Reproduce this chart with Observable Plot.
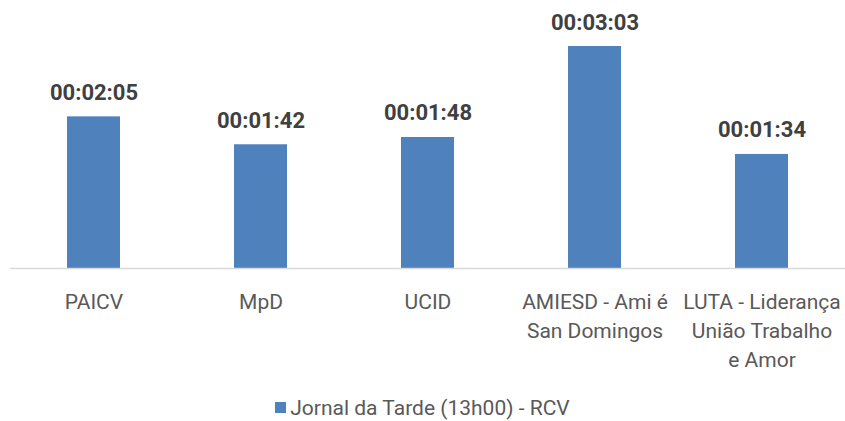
<!DOCTYPE html>
<html>
<head>
<meta charset="utf-8">
<script src="https://cdn.jsdelivr.net/npm/d3@7"></script>
<script src="https://cdn.jsdelivr.net/npm/@observablehq/plot@0.6"></script>
<style>
  html, body { margin: 0; padding: 0; background: #fff; }
  #chart { width: 845px; }
  .legend { height: 35px; display: flex; align-items: center; justify-content: center;
    font-family: Roboto, "Open Sans", sans-serif; font-size: 21px; color: #595959; }
  .legend .sw { width: 11px; height: 11px; background: #4f81bd; margin-right: 4px; }
</style>
</head>
<body>
<div id="chart"></div>
<script>
const categories = ["PAICV", "MpD", "UCID", "AMIESD - Ami é\nSan Domingos", "LUTA - Liderança\nUnião Trabalho\ne Amor"];
const durations = [125, 102, 108, 183, 94]; // seconds
const durationLabels = ["00:02:05", "00:01:42", "00:01:48", "00:03:03", "00:01:34"];
const seriesName = "Jornal da Tarde (13h00) - RCV";

const data = categories.map((c, i) => ({cat: c, v: durations[i], label: durationLabels[i]}));
const font = 'Roboto, "Open Sans", sans-serif';

const chart = Plot.plot({
  width: 845,
  height: 390,
  marginTop: 46,
  marginBottom: 122,
  marginLeft: 10,
  marginRight: 0,
  style: {fontFamily: font, background: "#fff"},
  x: {domain: categories, paddingInner: 0.68, paddingOuter: 0.34, axis: null},
  y: {domain: [0, 183], axis: null},
  marks: [
    Plot.barY(data, {x: "cat", y: "v", fill: "#4f81bd"}),
    Plot.ruleY([0], {stroke: "#d9d9d9", strokeWidth: 1.5}),
    Plot.text(data, {x: "cat", y: "v", text: "label", lineAnchor: "bottom", dy: -17,
      fontSize: 22, fontWeight: "bold", fill: "#404040"}),
    Plot.text(data, {x: "cat", frameAnchor: "bottom", text: "cat", lineAnchor: "top", dy: 20,
      lineHeight: 1.38, fontSize: 21, fill: "#595959"})
  ]
});
document.getElementById("chart").appendChild(chart);
const lg = document.createElement("div");
lg.className = "legend";
lg.innerHTML = '<span class="sw"></span><span></span>';
lg.lastChild.textContent = seriesName;
document.getElementById("chart").appendChild(lg);
</script>
</body>
</html>
